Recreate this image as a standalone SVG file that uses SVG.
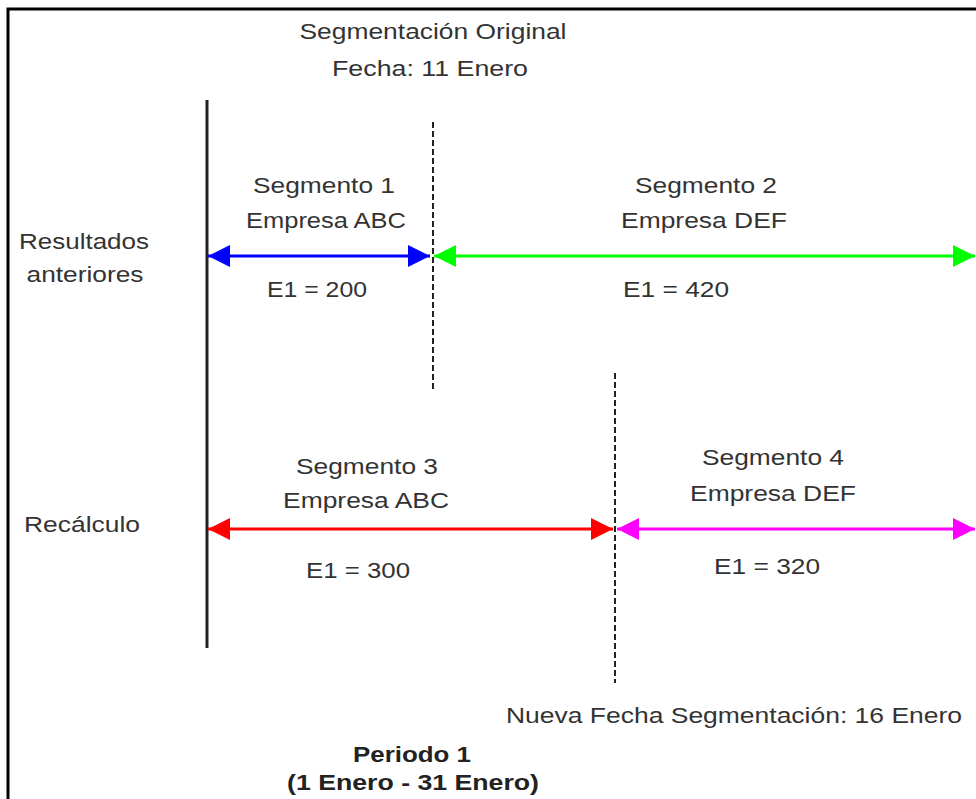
<svg xmlns="http://www.w3.org/2000/svg" width="976" height="799" viewBox="0 0 976 799">
<style>
  text { font-family: "Liberation Sans", Arial, sans-serif; font-size: 22px; fill: #333; text-anchor: middle; }
  .b { font-weight: bold; fill: #222; }
  .axis { stroke: #222; stroke-width: 3; fill: none; }
  .dash { stroke: #222; stroke-width: 2; stroke-dasharray: 6 3; fill: none; }
  .arr { stroke-width: 3; fill: none; }
</style>
<defs>
  <marker id="hb" markerUnits="userSpaceOnUse" markerWidth="22" markerHeight="22" refX="22" refY="11" orient="auto-start-reverse"><path d="M0,0 L22,11 L0,22 z" fill="#0000ff"/></marker>
  <marker id="hg" markerUnits="userSpaceOnUse" markerWidth="22" markerHeight="22" refX="22" refY="11" orient="auto-start-reverse"><path d="M0,0 L22,11 L0,22 z" fill="#00ff00"/></marker>
  <marker id="hr" markerUnits="userSpaceOnUse" markerWidth="22" markerHeight="22" refX="22" refY="11" orient="auto-start-reverse"><path d="M0,0 L22,11 L0,22 z" fill="#ff0000"/></marker>
  <marker id="hm" markerUnits="userSpaceOnUse" markerWidth="22" markerHeight="22" refX="22" refY="11" orient="auto-start-reverse"><path d="M0,0 L22,11 L0,22 z" fill="#ff00ff"/></marker>
</defs>
<rect x="0" y="0" width="976" height="799" fill="#fff"/>
<path d="M8,805 V9 H985" fill="none" stroke="#000" stroke-width="3"/>

<g id="header">
  <text x="433" y="39" textLength="267" lengthAdjust="spacingAndGlyphs">Segmentación Original</text>
  <text x="430" y="76" textLength="196" lengthAdjust="spacingAndGlyphs">Fecha: 11 Enero</text>
</g>
<g id="row-labels">
  <text x="84" y="249" textLength="130" lengthAdjust="spacingAndGlyphs">Resultados</text>
  <text x="85" y="282" textLength="117" lengthAdjust="spacingAndGlyphs">anteriores</text>
  <text x="82" y="532" textLength="116" lengthAdjust="spacingAndGlyphs">Recálculo</text>
</g>

<g id="connectors">
  <line class="axis" x1="207" y1="100" x2="207" y2="648"/>
  <line class="dash" x1="433" y1="122" x2="433" y2="392"/>
  <line class="dash" x1="615" y1="373" x2="615" y2="683"/>
  <line class="arr" x1="208" y1="256" x2="430" y2="256" stroke="#0000ff" marker-start="url(#hb)" marker-end="url(#hb)"/>
  <line class="arr" x1="434" y1="256" x2="975" y2="256" stroke="#00ff00" marker-start="url(#hg)" marker-end="url(#hg)"/>
  <line class="arr" x1="208" y1="529" x2="613" y2="529" stroke="#ff0000" marker-start="url(#hr)" marker-end="url(#hr)"/>
  <line class="arr" x1="617" y1="529" x2="975" y2="529" stroke="#ff00ff" marker-start="url(#hm)" marker-end="url(#hm)"/>
</g>

<g id="seg1">
  <text x="324" y="193" textLength="142" lengthAdjust="spacingAndGlyphs">Segmento 1</text>
  <text x="326" y="228" textLength="160" lengthAdjust="spacingAndGlyphs">Empresa ABC</text>
  <text x="317" y="297" textLength="100" lengthAdjust="spacingAndGlyphs">E1 = 200</text>
</g>
<g id="seg2">
  <text x="706" y="193" textLength="142" lengthAdjust="spacingAndGlyphs">Segmento 2</text>
  <text x="704" y="228" textLength="166" lengthAdjust="spacingAndGlyphs">Empresa DEF</text>
  <text x="676" y="297" textLength="106" lengthAdjust="spacingAndGlyphs">E1 = 420</text>
</g>
<g id="seg3">
  <text x="367" y="474" textLength="142" lengthAdjust="spacingAndGlyphs">Segmento 3</text>
  <text x="366" y="508" textLength="166" lengthAdjust="spacingAndGlyphs">Empresa ABC</text>
  <text x="358" y="578" textLength="104" lengthAdjust="spacingAndGlyphs">E1 = 300</text>
</g>
<g id="seg4">
  <text x="773" y="465" textLength="142" lengthAdjust="spacingAndGlyphs">Segmento 4</text>
  <text x="773" y="501" textLength="166" lengthAdjust="spacingAndGlyphs">Empresa DEF</text>
  <text x="767" y="574" textLength="106" lengthAdjust="spacingAndGlyphs">E1 = 320</text>
</g>
<g id="new-date">
  <text x="734" y="723" textLength="456" lengthAdjust="spacingAndGlyphs">Nueva Fecha Segmentación: 16 Enero</text>
</g>
<g id="period">
  <text class="b" x="412" y="762" textLength="118" lengthAdjust="spacingAndGlyphs">Periodo 1</text>
  <text class="b" x="413" y="790" textLength="252" lengthAdjust="spacingAndGlyphs">(1 Enero - 31 Enero)</text>
</g>
</svg>
